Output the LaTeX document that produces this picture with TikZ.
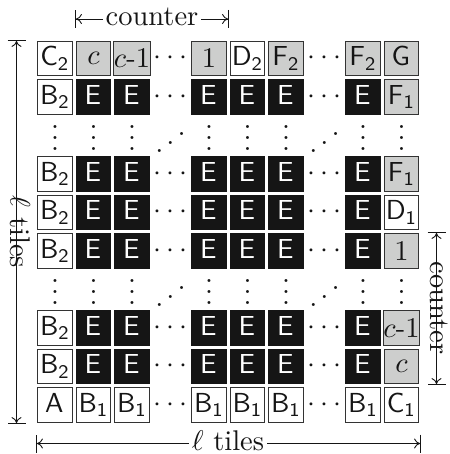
\documentclass[tikz,border=0pt]{standalone}
\usepackage{graphicx}
\usetikzlibrary{arrows.meta}
\newcommand{\sft}[2][]{\scalebox{2.75}{$\mathsf{#2}_{\mathsf{#1}}$}}
\newcommand{\sers}[1]{\scalebox{2.85}{#1}}
\definecolor{tilegray}{HTML}{CDCECD}
\definecolor{tileblack}{HTML}{151515}
\definecolor{tileedge}{HTML}{333333}
\tikzset{
  x=1pt,y=-1pt,
  tile/.style={minimum size=34.5pt,inner sep=0pt,outer sep=0pt,draw=tileedge,line width=1pt,text=tileblack},
  plain/.style={tile,fill=white},
  grayt/.style={tile,fill=tilegray},
  darkt/.style={tile,fill=tileblack,draw=tileblack,text=white},
  dotsn/.style={inner sep=0pt,outer sep=0pt,text=tileblack},
  dim/.style={draw=tileblack,line width=0.9pt,-{Computer Modern Rightarrow[length=6pt,width=10pt]Bar[width=18pt,length=0.9pt,sep=0pt]}},
  lab/.style={inner sep=0pt,outer sep=3pt,fill=white,text=tileblack},
}
\begin{document}
\begin{tikzpicture}
\useasboundingbox (0,0) rectangle (449,454);
% tile rows
\foreach \r in {1,3,4,5,7,8}{
  \node[plain] (t\r-0) at (55,{58.5+38.5*\r}) {\sft[2]{B}};
  \foreach \c in {1,2,4,5,6,8}{
    \node[darkt] (t\r-\c) at ({55+38.5*\c},{58.5+38.5*\r}) {\sft{E}};
  }
  \foreach \c in {3,7}{
    \node[dotsn] (t\r-\c) at ({55+38.5*\c},{58.5+38.5*\r}) {\sers{$\cdots$}};
  }
}
% top row
\node[plain] (t0-0) at (55,58.5) {\sft[2]{C}};
\node[grayt] (t0-1) at (93.5,58.5) {\sers{$c$}};
\node[grayt] (t0-2) at (132,58.5) {\sers{$c$-1}};
\node[dotsn] (t0-3) at (170.5,58.5) {\sers{$\cdots$}};
\node[grayt] (t0-4) at (209,58.5) {\sers{1}};
\node[plain] (t0-5) at (247.5,58.5) {\sft[2]{D}};
\node[grayt] (t0-6) at (286,58.5) {\sft[2]{F}};
\node[dotsn] (t0-7) at (324.5,58.5) {\sers{$\cdots$}};
\node[grayt] (t0-8) at (363,58.5) {\sft[2]{F}};
\node[grayt] (t0-9) at (401.5,58.5) {\sft{G}};
% right column
\node[grayt] (t1-9) at (401.5,97) {\sft[1]{F}};
\node[grayt] (t3-9) at (401.5,174) {\sft[1]{F}};
\node[plain] (t4-9) at (401.5,212.5) {\sft[1]{D}};
\node[grayt] (t5-9) at (401.5,251) {\sers{1}};
\node[grayt] (t7-9) at (401.5,328) {\sers{$c$-1}};
\node[grayt] (t8-9) at (401.5,366.5) {\sers{$c$}};
% bottom row
\node[plain] (t9-0) at (55,405) {\sft{A}};
\foreach \c in {1,2,4,5,6,8}{
  \node[plain] (t9-\c) at ({55+38.5*\c},405) {\sft[1]{B}};
}
\foreach \c in {3,7}{
  \node[dotsn] (t9-\c) at ({55+38.5*\c},405) {\sers{$\cdots$}};
}
\node[plain] (t9-9) at (401.5,405) {\sft[1]{C}};
% dot rows
\foreach \r in {2,6}{
  \foreach \c in {0,1,2,4,5,6,8,9}{
    \node[dotsn] (t\r-\c) at ({55+38.5*\c},{52.5+38.5*\r}) {\sers{$\vdots$}};
  }
  \foreach \c in {3,7}{
    \node[dotsn] (t\r-\c) at ({55+38.5*\c},{57+38.5*\r}) {\sers{\reflectbox{$\ddots$}}};
  }
}
% dimensions
\coordinate (topL) at (75,19);
\coordinate (topR) at (229,19);
\node[lab] (topT) at (152,17) {\sers{counter}};
\draw[dim] (topT.west |- topL) -- (topL);
\draw[dim] (topT.east |- topR) -- (topR);
\coordinate (leftT) at (16.5,40);
\coordinate (leftB) at (16.5,424);
\node[lab,rotate=-90] (leftL) at (20,232) {\sers{$\ell$ tiles}};
\draw[dim] (leftT |- leftL.east) -- (leftT);
\draw[dim] (leftB |- leftL.west) -- (leftB);
\coordinate (rightT) at (436.5,232);
\coordinate (rightB) at (436.5,385);
\node[lab,rotate=-90] (rightL) at (439.5,308) {\sers{counter}};
\draw[dim] (rightT |- rightL.east) -- (rightT);
\draw[dim] (rightB |- rightL.west) -- (rightB);
\coordinate (botL) at (36,443.5);
\coordinate (botR) at (421,443.5);
\node[lab] (botT) at (228,441) {\sers{$\ell$ tiles}};
\draw[dim] (botT.west |- botL) -- (botL);
\draw[dim] (botT.east |- botR) -- (botR);
\end{tikzpicture}
\end{document}
